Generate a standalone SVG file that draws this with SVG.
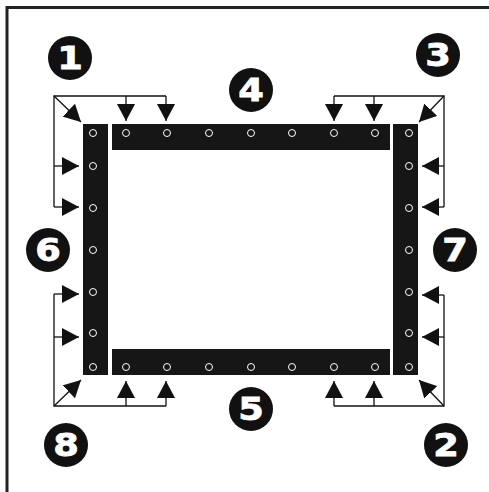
<svg xmlns="http://www.w3.org/2000/svg" width="489" height="492" viewBox="0 0 489 492">
<style>
.strip{fill:#161616}
.hole{fill:none;stroke:#fff;stroke-width:1}
.con{fill:none;stroke:#111;stroke-width:1.3}
.arr{fill:none;stroke:#111;stroke-width:1.3;marker-end:url(#ah)}
.badge{fill:#111}
.num{fill:#fff;stroke:#fff;stroke-width:0.8;font-family:"DejaVu Sans",sans-serif;font-weight:bold;font-size:32px;text-anchor:middle;dominant-baseline:central}
</style>
<defs>
<marker id="ah" viewBox="0 0 17 18" refX="17" refY="9" markerWidth="17" markerHeight="18" markerUnits="userSpaceOnUse" orient="auto">
<path d="M0,0 L17,9 L0,18 Z" fill="#111"/>
</marker>
</defs>
<rect width="489" height="492" fill="#fff"/>
<path d="M7,492 L7,7.5 L489,7.5" fill="none" stroke="#222" stroke-width="3"/>

<g id="strip-top">
<rect class="strip" x="112" y="124" width="278" height="26"/>
<circle class="hole" cx="126" cy="133" r="3.5"/><circle class="hole" cx="167" cy="133" r="3.5"/><circle class="hole" cx="209" cy="133" r="3.5"/><circle class="hole" cx="251" cy="133" r="3.5"/><circle class="hole" cx="292" cy="133" r="3.5"/><circle class="hole" cx="334" cy="133" r="3.5"/><circle class="hole" cx="375" cy="133" r="3.5"/>
</g>
<g id="strip-bottom">
<rect class="strip" x="112" y="349" width="278" height="26"/>
<circle class="hole" cx="126" cy="367" r="3.5"/><circle class="hole" cx="167" cy="367" r="3.5"/><circle class="hole" cx="209" cy="367" r="3.5"/><circle class="hole" cx="251" cy="367" r="3.5"/><circle class="hole" cx="292" cy="367" r="3.5"/><circle class="hole" cx="334" cy="367" r="3.5"/><circle class="hole" cx="375" cy="367" r="3.5"/>
</g>
<g id="strip-left">
<rect class="strip" x="83" y="124" width="25" height="251"/>
<circle class="hole" cx="93" cy="133" r="3.5"/><circle class="hole" cx="93" cy="166" r="3.5"/><circle class="hole" cx="93" cy="208" r="3.5"/><circle class="hole" cx="93" cy="250" r="3.5"/><circle class="hole" cx="93" cy="292" r="3.5"/><circle class="hole" cx="93" cy="333" r="3.5"/><circle class="hole" cx="93" cy="367" r="3.5"/>
</g>
<g id="strip-right">
<rect class="strip" x="393" y="124" width="25" height="251"/>
<circle class="hole" cx="409" cy="133" r="3.5"/><circle class="hole" cx="409" cy="166" r="3.5"/><circle class="hole" cx="409" cy="208" r="3.5"/><circle class="hole" cx="409" cy="250" r="3.5"/><circle class="hole" cx="409" cy="292" r="3.5"/><circle class="hole" cx="409" cy="333" r="3.5"/><circle class="hole" cx="409" cy="367" r="3.5"/>
</g>

<g id="connectors">
<path class="con" d="M166,96 L54,96 L54,207"/>
<path class="arr" d="M126,96 L126,121"/>
<path class="arr" d="M166,96 L166,121"/>
<path class="arr" d="M54,166 L79,166"/>
<path class="arr" d="M54,207 L79,207"/>
<path class="arr" d="M54,96 L81,122"/>

<path class="con" d="M334,96 L444,96 L444,207"/>
<path class="arr" d="M334,96 L334,121"/>
<path class="arr" d="M374,96 L374,121"/>
<path class="arr" d="M444,166 L422,166"/>
<path class="arr" d="M444,207 L422,207"/>
<path class="arr" d="M444,96 L419,122"/>

<path class="con" d="M54,294 L54,406 L166,406"/>
<path class="arr" d="M54,294 L79,294"/>
<path class="arr" d="M54,337 L79,337"/>
<path class="arr" d="M126,406 L126,381"/>
<path class="arr" d="M166,406 L166,381"/>
<path class="arr" d="M54,406 L81,380"/>

<path class="con" d="M444,295 L444,406 L334,406"/>
<path class="arr" d="M444,295 L422,295"/>
<path class="arr" d="M444,337 L422,337"/>
<path class="arr" d="M334,406 L334,381"/>
<path class="arr" d="M374,406 L374,381"/>
<path class="arr" d="M444,406 L419,380"/>
</g>

<g id="badge-1"><circle class="badge" cx="70" cy="58" r="22"/><text class="num" transform="translate(70,58) scale(1.15,1)">1</text></g>
<g id="badge-2"><circle class="badge" cx="446" cy="445" r="22"/><text class="num" transform="translate(446,445) scale(1.15,1)">2</text></g>
<g id="badge-3"><circle class="badge" cx="438" cy="55" r="22"/><text class="num" transform="translate(438,55) scale(1.15,1)">3</text></g>
<g id="badge-4"><circle class="badge" cx="251" cy="90" r="22"/><text class="num" transform="translate(251,90) scale(1.15,1)">4</text></g>
<g id="badge-5"><circle class="badge" cx="251" cy="409" r="22"/><text class="num" transform="translate(251,409) scale(1.15,1)">5</text></g>
<g id="badge-6"><circle class="badge" cx="48" cy="250" r="22"/><text class="num" transform="translate(48,250) scale(1.15,1)">6</text></g>
<g id="badge-7"><circle class="badge" cx="455" cy="250" r="22"/><text class="num" transform="translate(455,250) scale(1.15,1)">7</text></g>
<g id="badge-8"><circle class="badge" cx="66" cy="445" r="22"/><text class="num" transform="translate(66,445) scale(1.15,1)">8</text></g>
</svg>
